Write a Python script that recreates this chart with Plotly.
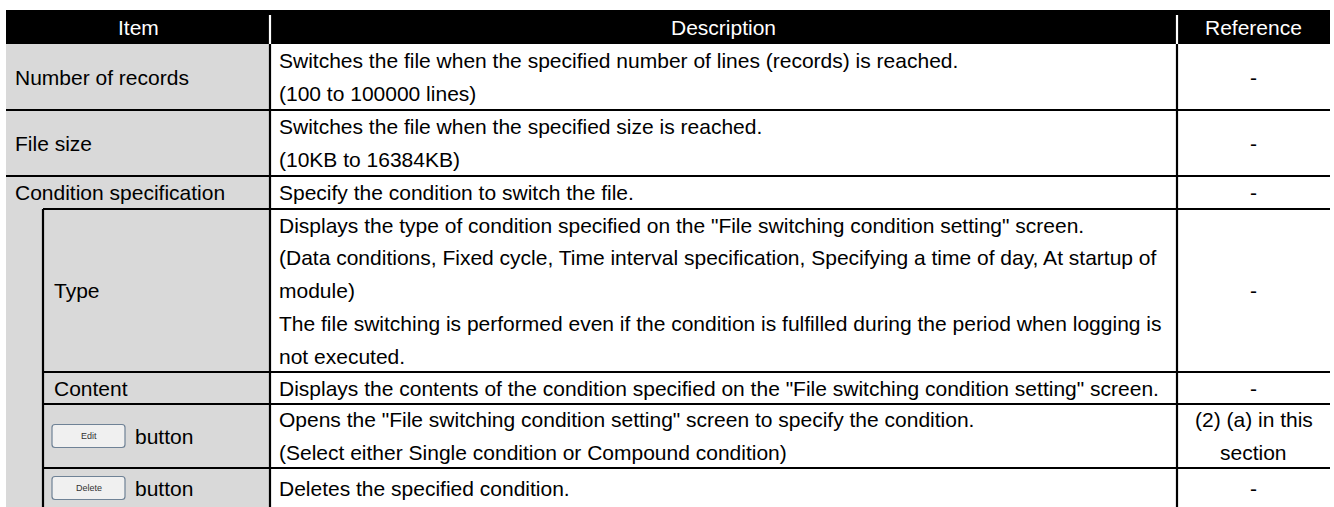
import plotly.graph_objects as go

# ---------------- data ----------------
headers = ["Item", "Description", "Reference"]
items = ["Number of records", "File size", "Condition specification",
         "Type", "Content", "button", "button"]
item_level = [0, 0, 0, 1, 1, 1, 1]
item_buttons = [None, None, None, None, None, "Edit", "Delete"]
descriptions = [
    ["Switches the file when the specified number of lines (records) is reached.",
     "(100 to 100000 lines)"],
    ["Switches the file when the specified size is reached.",
     "(10KB to 16384KB)"],
    ["Specify the condition to switch the file."],
    ["Displays the type of condition specified on the \"File switching condition setting\" screen.",
     "(Data conditions, Fixed cycle, Time interval specification, Specifying a time of day, At startup of",
     "module)",
     "The file switching is performed even if the condition is fulfilled during the period when logging is",
     "not executed."],
    ["Displays the contents of the condition specified on the \"File switching condition setting\" screen."],
    ["Opens the \"File switching condition setting\" screen to specify the condition.",
     "(Select either Single condition or Compound condition)"],
    ["Deletes the specified condition."],
]
references = [["-"], ["-"], ["-"], ["-"], ["-"], ["(2) (a) in this", "section"], ["-"]]

# ---------------- layout constants ----------------
W, H = 1334, 507
X_LEFT, X_INDENT, X_C1, X_C2, X_RIGHT = 6, 43, 270, 1177, 1330
HEAD_TOP, HEAD_BOT = 10, 44
ROW_BOUNDS = [44, 110, 176, 209, 372, 404, 468, 508]
LINE_H = 32.75
FONT = "Liberation Sans, Arial, sans-serif"
FS = 21
GRAY = "#d9d9d9"
LW = 2.2

fig = go.Figure()
shapes = []
annotations = []


def rect(x0, y0, x1, y1, fill, line_w=0, line_c=None):
    shapes.append(dict(type="rect", x0=x0, y0=y0, x1=x1, y1=y1, xref="x", yref="y",
                       fillcolor=fill, line=dict(width=line_w, color=line_c or fill), layer="below"))


def line(x0, y0, x1, y1, color="black", w=LW):
    shapes.append(dict(type="line", x0=x0, y0=y0, x1=x1, y1=y1, xref="x", yref="y",
                       line=dict(color=color, width=w), layer="above"))


def text(x, y, s, anchor="left", color="black", size=FS):
    annotations.append(dict(x=x, y=y, xref="x", yref="y", text=s, showarrow=False,
                            xanchor=anchor, yanchor="middle",
                            font=dict(family=FONT, size=size, color=color)))


def rounded(x0, y0, x1, y1, r):
    return (f"M {x0+r},{y0} L {x1-r},{y0} Q {x1},{y0} {x1},{y0+r} "
            f"L {x1},{y1-r} Q {x1},{y1} {x1-r},{y1} L {x0+r},{y1} "
            f"Q {x0},{y1} {x0},{y1-r} L {x0},{y0+r} Q {x0},{y0} {x0+r},{y0} Z")


# backgrounds
rect(X_LEFT, HEAD_TOP, X_RIGHT, HEAD_BOT, "black")
rect(X_LEFT, ROW_BOUNDS[0], X_C1, H + 5, GRAY)

# header
col_centers = [(X_LEFT + X_C1) / 2, (X_C1 + X_C2) / 2, (X_C2 + X_RIGHT) / 2]
for c, h in zip(col_centers, headers):
    text(c, (HEAD_TOP + HEAD_BOT) / 2, h, anchor="center", color="white")
line(X_C1, 15, X_C1, HEAD_BOT, color="white")
line(X_C2, 15, X_C2, HEAD_BOT, color="white")

# vertical lines
line(X_C1, HEAD_BOT, X_C1, H + 5)
line(X_C2, HEAD_BOT, X_C2, H + 5)
first_sub = item_level.index(1)
line(X_INDENT, ROW_BOUNDS[first_sub], X_INDENT, H + 5)

# rows
for i in range(len(items)):
    top, bot = ROW_BOUNDS[i], ROW_BOUNDS[i + 1]
    mid = (top + bot) / 2
    if i > 0:
        xs = X_INDENT if item_level[i] == 1 else X_LEFT
        line(xs, top, X_RIGHT, top)
    # item cell
    x_item = 13 if item_level[i] == 0 else 52
    if item_buttons[i]:
        bx0, bx1 = x_item, x_item + 73
        shapes.append(dict(type="path", path=rounded(bx0, mid - 11.5, bx1, mid + 11.5, 3),
                           xref="x", yref="y", fillcolor="#f0f0f0",
                           line=dict(color="#6f8296", width=1.2), layer="above"))
        text((bx0 + bx1) / 2, mid, item_buttons[i], anchor="center", color="#333333", size=9)
        text(133, mid, items[i])
    else:
        text(x_item, mid, items[i])
    # description
    lines_ = descriptions[i]
    n = len(lines_)
    for j, s in enumerate(lines_):
        text(X_C1 + 7, mid + (j - (n - 1) / 2) * LINE_H, s)
    # reference
    refs = references[i]
    n = len(refs)
    for j, s in enumerate(refs):
        text(col_centers[2], mid + (j - (n - 1) / 2) * LINE_H, s, anchor="center")

fig.update_layout(
    width=W, height=H, margin=dict(l=0, r=0, t=0, b=0),
    paper_bgcolor="white", plot_bgcolor="white",
    xaxis=dict(range=[0, W], visible=False, fixedrange=True),
    yaxis=dict(range=[H, 0], visible=False, fixedrange=True),
    shapes=shapes, annotations=annotations, showlegend=False,
)
fig.write_html("out.html", config={"displayModeBar": False},
               post_script="document.body.style.margin='0';document.body.style.overflow='hidden';")
